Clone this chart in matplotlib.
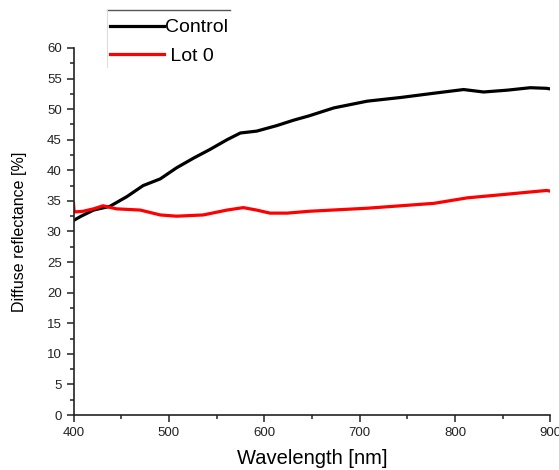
import matplotlib
matplotlib.use("Agg")
import matplotlib.pyplot as plt
from matplotlib.lines import Line2D
from matplotlib.ticker import MultipleLocator

plt.rcParams['font.family'] = ['Liberation Sans', 'DejaVu Sans']

# Control sample
control_wl = [400, 408, 421, 438, 456, 473, 491, 508, 526, 543, 561, 575, 592, 613,
              631, 647, 673, 708, 743, 778, 809, 830, 855, 879, 896, 900]
control_r = [31.8, 32.5, 33.5, 34.1, 35.7, 37.5, 38.6, 40.4, 42.0, 43.4, 45.0, 46.1,
             46.4, 47.3, 48.2, 48.9, 50.2, 51.3, 51.9, 52.6, 53.2, 52.8, 53.1, 53.5,
             53.4, 53.3]

# Lot 0 sample
lot0_wl = [400, 400.5, 401.5, 410, 421, 431, 445, 470, 491, 508, 536, 561, 578, 592,
           606, 624, 647, 708, 778, 813, 848, 882, 896, 900]
lot0_r = [34.6, 33.4, 33.2, 33.3, 33.7, 34.2, 33.7, 33.5, 32.7, 32.5, 32.7, 33.5,
          33.9, 33.5, 33.0, 33.0, 33.3, 33.8, 34.6, 35.5, 36.0, 36.5, 36.7, 36.6]

fig = plt.figure(figsize=(5.59, 4.70), dpi=100)
ax = fig.add_axes([0.1315, 0.117, 0.853, 0.781])

ax.plot(control_wl, control_r, color='black', lw=2.3, label='Control')
ax.plot(lot0_wl, lot0_r, color='#ff0000', lw=2.3, label=' Lot 0')

ax.set_xlim(400, 900)
ax.set_ylim(0, 60)
ax.xaxis.set_major_locator(MultipleLocator(100))
ax.xaxis.set_minor_locator(MultipleLocator(50))
ax.yaxis.set_major_locator(MultipleLocator(5))
ax.yaxis.set_minor_locator(MultipleLocator(2.5))

for s in ['top', 'right']:
    ax.spines[s].set_visible(False)
for s in ['left', 'bottom']:
    ax.spines[s].set_linewidth(1.2)
    ax.spines[s].set_color('#222222')

ax.tick_params(which='major', direction='out', length=5, width=1.1, labelsize=9.5,
               colors='#222222')
ax.tick_params(which='minor', direction='out', length=3, width=1.1, colors='#222222')

ax.set_xlabel('Wavelength [nm]', fontsize=14.5, labelpad=7)
ax.set_ylabel('Diffuse reflectance [%]', fontsize=11.5, labelpad=14)

leg = ax.legend(loc='upper left', bbox_to_anchor=(101 / 559, 1 - 10 / 470),
                bbox_transform=fig.transFigure, frameon=False, fontsize=14,
                handlelength=2.8, handletextpad=0.05, labelspacing=0.55,
                borderpad=0.45, borderaxespad=0)

# legend frame: only top and left edges visible in the original
fig.add_artist(Line2D([107 / 559, 230 / 559], [1 - 10 / 470, 1 - 10 / 470],
                      transform=fig.transFigure, color='#555555', lw=1))
fig.add_artist(Line2D([107 / 559, 107 / 559], [1 - 10 / 470, 1 - 67 / 470],
                      transform=fig.transFigure, color='#dddddd', lw=0.8))

fig.savefig('out.png', dpi=100)
